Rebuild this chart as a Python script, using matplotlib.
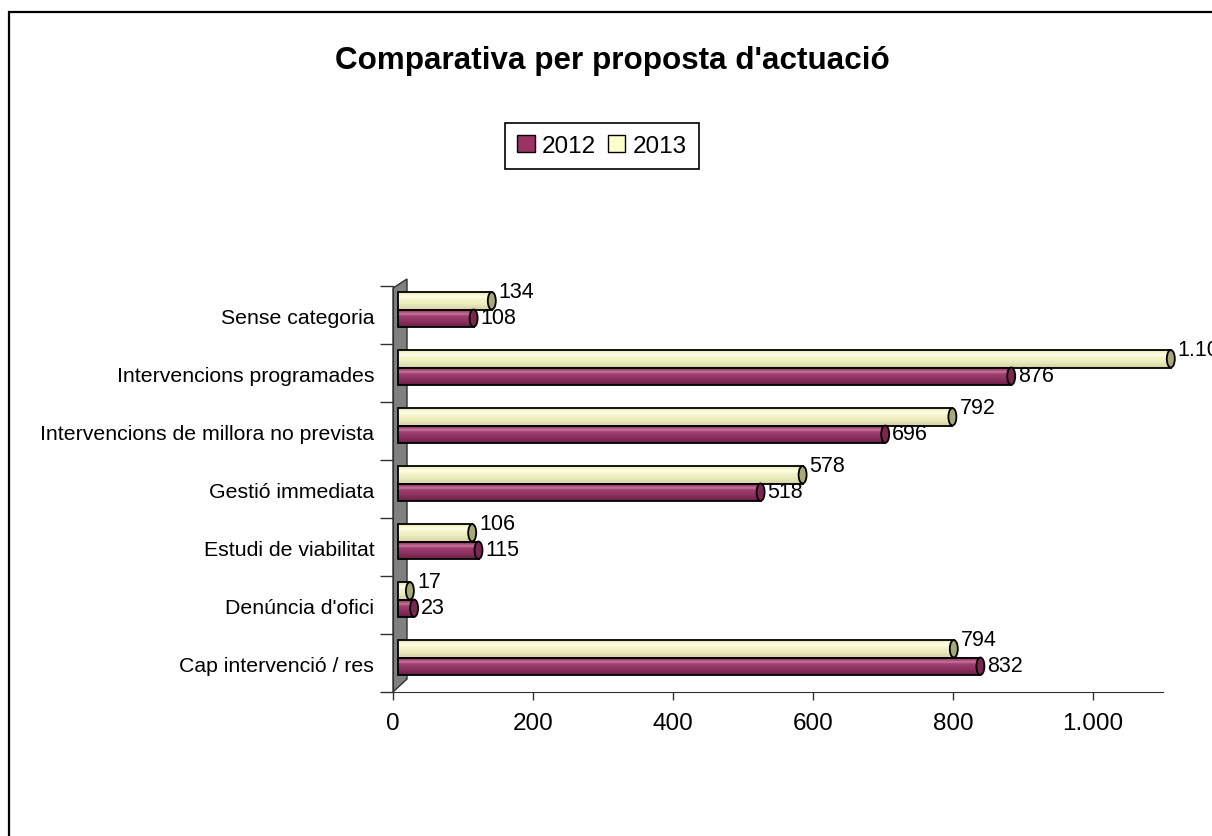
import numpy as np
import matplotlib
matplotlib.use('Agg')
import matplotlib.pyplot as plt
from matplotlib.patches import Ellipse, Rectangle, Polygon, Patch
from matplotlib.colors import LinearSegmentedColormap
from matplotlib.ticker import FuncFormatter
import matplotlib.transforms as mtransforms

# ---------------- data ----------------
categories = ["Cap intervenció / res", "Denúncia d'ofici", "Estudi de viabilitat",
              "Gestió immediata", "Intervencions de millora no prevista",
              "Intervencions programades", "Sense categoria"]
values_2012 = [832, 23, 115, 518, 696, 876, 108]
values_2013 = [794, 17, 106, 578, 792, 1104, 134]
series_labels = ["2012", "2013"]
title_text = "Comparativa per proposta d'actuació"
x_ticks = [0, 200, 400, 600, 800, 1000]

plt.rcParams['font.family'] = ['Liberation Sans', 'DejaVu Sans']

def fmt(v):
    return f"{int(v):,}".replace(",", ".")

fig = plt.figure(figsize=(12.12, 8.37), dpi=100)
ax = fig.add_axes([393/1212, 1-693/837, (1163-393)/1212, (693-287)/837])
XMAX = 1100
ax.set_xlim(0, XMAX)
ax.set_ylim(-0.5, len(categories) - 0.5)

# 3D depth offset for bars
trans = ax.transData + mtransforms.ScaledTranslation(5/100, 5.5/100, fig.dpi_scale_trans)

# wall
px_x = XMAX / 770.0
px_y = len(categories) / 406.0
wall = Polygon([(0, -0.5), (0, len(categories) - 0.5 - 2*px_y),
                (14*px_x, len(categories) - 0.5 + 7*px_y), (14*px_x, -0.5 + 13*px_y)],
               closed=True, facecolor='#808080', edgecolor='#303030', lw=1.0,
               zorder=1, clip_on=False)
ax.add_patch(wall)

h = 0.30
cmap_m = LinearSegmentedColormap.from_list('m', [(0, '#6a1f45'), (0.35, '#8e3262'),
                                                 (0.62, '#a0416f'), (0.74, '#c7799e'),
                                                 (0.84, '#a44673'), (1, '#8a2e5e')])
cmap_y = LinearSegmentedColormap.from_list('y', [(0, '#d2d2a2'), (0.35, '#ececbe'),
                                                 (0.62, '#f6f6cc'), (0.74, '#ffffee'),
                                                 (0.84, '#f8f8d2'), (1, '#e6e6bc')])
grad = np.linspace(0, 1, 64).reshape(-1, 1)
cap_w = 8 * px_x

series = [(values_2012, -h/2, cmap_m, '#7a2650', 1), (values_2013, h/2, cmap_y, '#a8a878', 9)]
for vals, off, cmap, capc, dy in series:
    for i, v in enumerate(vals):
        yc = i + off
        im = ax.imshow(grad, cmap=cmap, extent=[0, v, yc - h/2, yc + h/2], aspect='auto',
                       origin='lower', interpolation='bilinear', transform=trans, zorder=3)
        im.set_clip_on(False)
    ax.barh([i + off for i in range(len(vals))], vals, height=h, left=0,
            facecolor='none', edgecolor='black', lw=1.3, transform=trans, zorder=4,
            clip_on=False)
    for i, v in enumerate(vals):
        yc = i + off
        e = Ellipse((v, yc), cap_w, h, facecolor=capc, edgecolor='black', lw=1.3,
                    transform=trans, zorder=5, clip_on=False)
        ax.add_patch(e)
        ax.annotate(fmt(v), xy=(v, yc), xycoords=trans, xytext=(7, dy),
                    textcoords='offset pixels', ha='left', va='center', fontsize=15.5,
                    annotation_clip=False, zorder=6)

ax.set_xlim(0, XMAX)
ax.set_ylim(-0.5, len(categories) - 0.5)

# axes styling
for s in ['top', 'right']:
    ax.spines[s].set_visible(False)
ax.spines['left'].set_color('#303030')
ax.spines['bottom'].set_color('#303030')
ax.spines['left'].set_zorder(2)

ax.set_xticks(x_ticks)
ax.xaxis.set_major_formatter(FuncFormatter(lambda v, p: fmt(v)))
ax.tick_params(axis='x', direction='out', length=5.8, width=1, pad=8.5, labelsize=17.5,
               color='#303030')

ax.set_yticks(np.arange(-0.5, len(categories), 1))
ax.set_yticklabels([])
ax.set_yticks(np.arange(len(categories)), minor=True)
ax.set_yticklabels(categories, minor=True)
ax.tick_params(axis='y', which='major', direction='out', length=9.4, width=1, color='#303030')
ax.tick_params(axis='y', which='minor', length=0, pad=13.5, labelsize=15.3)

# title
fig.text(612/1212, 1 - 69/837, title_text, ha='center', va='baseline',
         fontsize=22.6, fontweight='bold')

# legend
handles = [Patch(facecolor='#993366', edgecolor='black'),
           Patch(facecolor='#FFFFCC', edgecolor='black')]
leg = fig.legend(handles, series_labels, loc='center', bbox_to_anchor=(602/1212, 1 - 147/837),
                 ncol=2, frameon=True, fancybox=False, edgecolor='black', fontsize=17.5,
                 handlelength=0.7, handleheight=0.7, handletextpad=0.3, columnspacing=0.5,
                 borderpad=0.5, framealpha=1)
leg.get_frame().set_linewidth(1.2)

# figure border (chart area)
fig.patches.append(Rectangle((9/1212, -0.5), 2, 0.5 + 1 - 13/837, transform=fig.transFigure,
                             fill=False, edgecolor='black', lw=1.6))

fig.savefig('out.png', dpi=100)
